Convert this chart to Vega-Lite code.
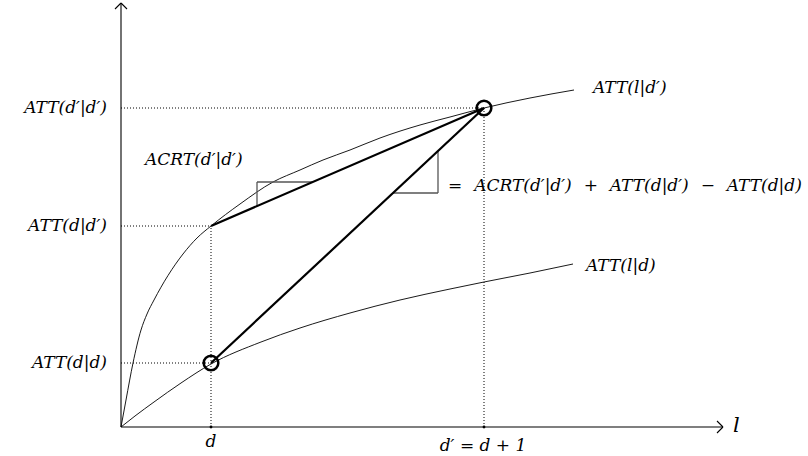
{
  "$schema": "https://vega.github.io/schema/vega-lite/v6.json",
  "width": 808,
  "height": 456,
  "padding": 0,
  "autosize": {"type": "fit", "contains": "padding"},
  "background": "white",
  "view": {"stroke": null},
  "encoding": {
    "x": {"field": "x", "type": "quantitative", "scale": {"domain": [-121, 687], "nice": false, "zero": false}, "axis": null},
    "y": {"field": "y", "type": "quantitative", "scale": {"domain": [-29, 427], "nice": false, "zero": false}, "axis": null}
  },
  "layer": [
    {
      "data": {"values": [
        {"x": 0, "y": 319, "x2": 363, "y2": 319},
        {"x": 0, "y": 201, "x2": 90, "y2": 201},
        {"x": 0, "y": 64, "x2": 90, "y2": 64},
        {"x": 90, "y": 0, "x2": 90, "y2": 201},
        {"x": 363, "y": 0, "x2": 363, "y2": 319}
      ]},
      "mark": {"type": "rule", "color": "#000", "strokeWidth": 1, "strokeDash": [1, 2]},
      "encoding": {"x2": {"field": "x2"}, "y2": {"field": "y2"}}
    },
    {
      "data": {"values": [
        {"x": 0, "y": 0, "x2": 0, "y2": 424},
        {"x": -6, "y": 418, "x2": 0, "y2": 424},
        {"x": 6, "y": 418, "x2": 0, "y2": 424},
        {"x": 0, "y": 0, "x2": 602, "y2": 0},
        {"x": 596, "y": 6, "x2": 602, "y2": 0},
        {"x": 596, "y": -6, "x2": 602, "y2": 0}
      ]},
      "mark": {"type": "rule", "color": "#000", "strokeWidth": 1.1},
      "encoding": {"x2": {"field": "x2"}, "y2": {"field": "y2"}}
    },
    {
      "data": {"values": [
        {"s": "up", "x": 0, "y": 0},
        {"s": "up", "x": 5, "y": 27},
        {"s": "up", "x": 12, "y": 64},
        {"s": "up", "x": 20, "y": 97},
        {"s": "up", "x": 26, "y": 113},
        {"s": "up", "x": 33, "y": 127},
        {"s": "up", "x": 47, "y": 151.5},
        {"s": "up", "x": 62, "y": 173},
        {"s": "up", "x": 76, "y": 189},
        {"s": "up", "x": 90, "y": 201},
        {"s": "up", "x": 119, "y": 223},
        {"s": "up", "x": 152, "y": 245},
        {"s": "up", "x": 179, "y": 257},
        {"s": "up", "x": 202, "y": 267},
        {"s": "up", "x": 229, "y": 277},
        {"s": "up", "x": 259, "y": 289},
        {"s": "up", "x": 299, "y": 302},
        {"s": "up", "x": 329, "y": 310},
        {"s": "up", "x": 363, "y": 319},
        {"s": "up", "x": 409, "y": 329},
        {"s": "up", "x": 453, "y": 337},
        {"s": "lo", "x": 0, "y": 0},
        {"s": "lo", "x": 14, "y": 11},
        {"s": "lo", "x": 33, "y": 25},
        {"s": "lo", "x": 60, "y": 44},
        {"s": "lo", "x": 90, "y": 63},
        {"s": "lo", "x": 140, "y": 85},
        {"s": "lo", "x": 179, "y": 99},
        {"s": "lo", "x": 229, "y": 114},
        {"s": "lo", "x": 279, "y": 127},
        {"s": "lo", "x": 329, "y": 138},
        {"s": "lo", "x": 363, "y": 145},
        {"s": "lo", "x": 409, "y": 154},
        {"s": "lo", "x": 452, "y": 163}
      ]},
      "mark": {"type": "line", "color": "#000", "strokeWidth": 0.9, "interpolate": "monotone"},
      "encoding": {"detail": {"field": "s"}}
    },
    {
      "data": {"values": [
        {"x": 136, "y": 221, "x2": 136, "y2": 245},
        {"x": 136, "y": 245, "x2": 192, "y2": 245},
        {"x": 317, "y": 276, "x2": 317, "y2": 234},
        {"x": 272, "y": 234, "x2": 317, "y2": 234}
      ]},
      "mark": {"type": "rule", "color": "#555555", "strokeWidth": 1.3},
      "encoding": {"x2": {"field": "x2"}, "y2": {"field": "y2"}}
    },
    {
      "data": {"values": [
        {"x": 90, "y": 201, "x2": 363, "y2": 319},
        {"x": 90, "y": 64, "x2": 363, "y2": 319}
      ]},
      "mark": {"type": "rule", "color": "#000", "strokeWidth": 2.2},
      "encoding": {"x2": {"field": "x2"}, "y2": {"field": "y2"}}
    },
    {
      "data": {"values": [{"x": 90, "y": 0}, {"x": 363, "y": 0}]},
      "mark": {"type": "point", "shape": "circle", "filled": true, "color": "#000", "opacity": 1, "size": 8}
    },
    {
      "data": {"values": [{"x": 90, "y": 64}, {"x": 363, "y": 319}]},
      "mark": {"type": "point", "shape": "circle", "filled": false, "color": "#000", "opacity": 1, "strokeWidth": 2.5, "size": 215}
    },
    {
      "data": {"values": [
        {"x": -14, "y": 319, "label": "ATT(d′|d′)"},
        {"x": -14, "y": 201, "label": "ATT(d|d′)"},
        {"x": -14, "y": 64, "label": "ATT(d|d)"}
      ]},
      "mark": {"type": "text", "align": "right", "baseline": "middle", "font": "DejaVu Serif", "fontStyle": "italic", "fontSize": 17, "color": "#000"},
      "encoding": {"text": {"field": "label"}}
    },
    {
      "data": {"values": [
        {"x": 24, "y": 267, "label": "ACRT(d′|d′)"},
        {"x": 327, "y": 241, "label": "=\u2002\u2009ACRT(d′|d′)\u2002\u2009+\u2002\u2009ATT(d|d′)\u2002\u2009−\u2002\u2009ATT(d|d)"},
        {"x": 472, "y": 339, "label": "ATT(l|d′)"},
        {"x": 465, "y": 161, "label": "ATT(l|d)"}
      ]},
      "mark": {"type": "text", "align": "left", "baseline": "middle", "font": "DejaVu Serif", "fontStyle": "italic", "fontSize": 17, "color": "#000"},
      "encoding": {"text": {"field": "label"}}
    },
    {
      "data": {"values": [
        {"x": 90, "y": -15, "label": "d"},
        {"x": 362, "y": -19, "label": "d′ = d + 1"}
      ]},
      "mark": {"type": "text", "align": "center", "baseline": "middle", "font": "DejaVu Serif", "fontStyle": "italic", "fontSize": 17, "color": "#000"},
      "encoding": {"text": {"field": "label"}}
    },
    {
      "data": {"values": [{"x": 612, "y": 1, "label": "l"}]},
      "mark": {"type": "text", "align": "left", "baseline": "middle", "font": "DejaVu Serif", "fontStyle": "italic", "fontSize": 21, "color": "#000"},
      "encoding": {"text": {"field": "label"}}
    }
  ]
}
